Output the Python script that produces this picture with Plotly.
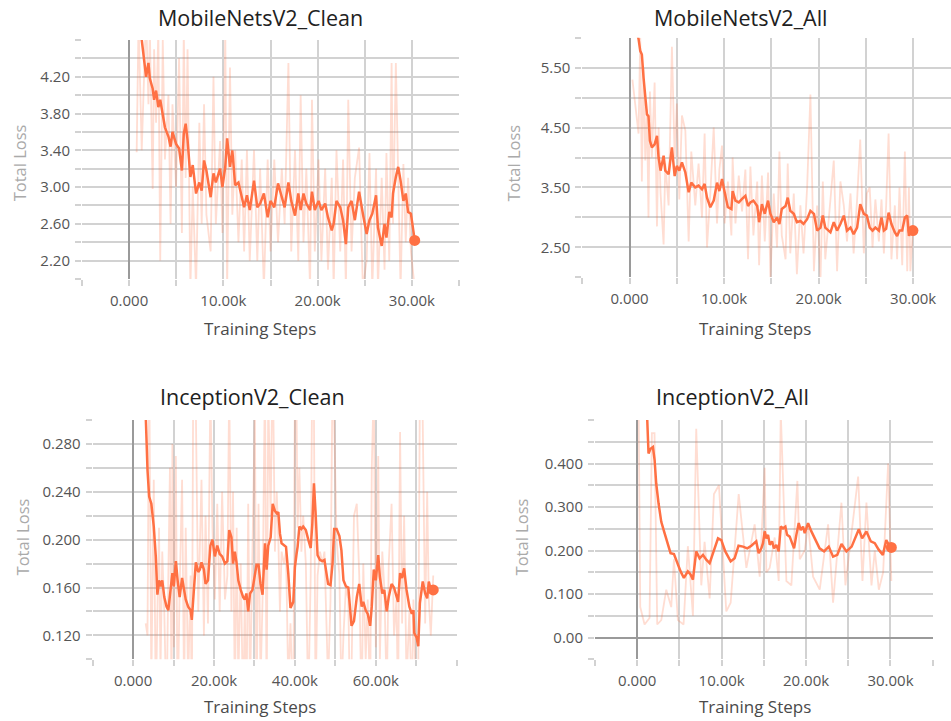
import plotly.graph_objects as go

# ---------------- DATA ----------------
# Panel 1: MobileNetsV2_Clean
mc_steps = [800, 1000, 1340, 1800, 2050, 2200, 2500, 2650, 2860, 3100,
            3300, 3570, 3800, 4170, 4400, 4600, 4980, 5300, 5600, 5800,
            6000, 6200, 6500, 6750, 7100, 7450, 7700, 7950, 8200, 8650,
            8950, 9200, 9650, 9900, 10200, 10400, 10700, 10950, 11250, 11600,
            11950, 12200, 12500, 12800, 13250, 13600, 13900, 14300, 14700, 15000,
            15400, 15800, 16200, 16500, 16900, 17200, 17600, 17950, 18200, 18500,
            18800, 19200, 19400, 19700, 20100, 20400, 20800, 21100, 21500, 21700,
            22000, 22400, 22700, 23000, 23250, 23600, 23950, 24400, 24800, 25200,
            25500, 25800, 26200, 26400, 26800, 27100, 27300, 27600, 27850, 28000,
            28300, 28550, 28800, 29100, 29350, 29600, 29900, 30300]
mc_smooth = [5.10, 4.85, 4.60, 4.20, 4.35, 4.18, 4.07, 3.95, 4.05, 3.87,
             3.95, 3.76, 3.65, 3.55, 3.44, 3.60, 3.47, 3.42, 3.18, 3.58,
             3.69, 3.51, 3.11, 3.24, 2.93, 3.05, 2.96, 3.29, 3.18, 2.89,
             3.15, 3.05, 3.20, 3.00, 3.22, 3.53, 3.22, 3.40, 3.02, 3.05,
             2.89, 2.78, 2.91, 2.75, 3.07, 2.78, 2.82, 2.93, 2.67, 2.85,
             2.78, 3.04, 2.89, 2.78, 3.05, 2.85, 2.69, 2.93, 2.75, 2.93,
             2.82, 2.75, 2.95, 2.75, 2.85, 2.75, 2.82, 2.67, 2.53, 2.60,
             2.85, 2.78, 2.64, 2.38, 2.78, 2.85, 2.64, 2.95, 2.71, 2.49,
             2.64, 2.71, 2.91, 2.56, 2.36, 2.60, 2.45, 2.73, 2.67, 2.93,
             3.11, 3.22, 3.07, 2.85, 2.93, 2.73, 2.71, 2.42]
mc_raw = [3.38, 4.80, 3.40, 4.90, 3.90, 4.70, 2.98, 4.50, 3.70, 4.70,
          2.20, 4.60, 3.30, 4.00, 2.60, 3.90, 3.00, 4.40, 2.50, 4.70,
          3.10, 4.50, 1.90, 3.00, 1.90, 3.70, 2.60, 3.90, 2.70, 2.30,
          4.20, 2.60, 3.50, 2.50, 4.70, 1.90, 4.30, 2.70, 3.40, 2.40,
          3.30, 2.30, 3.40, 2.20, 3.40, 2.20, 3.20, 1.90, 3.30, 2.30,
          3.30, 2.40, 3.20, 2.60, 4.35, 2.30, 3.40, 2.20, 4.00, 2.40,
          3.20, 1.90, 3.95, 2.30, 3.30, 2.20, 3.20, 2.10, 3.10, 1.90,
          3.40, 2.30, 3.30, 1.90, 3.95, 2.30, 3.10, 3.43, 1.90, 2.20,
          3.37, 1.90, 3.20, 1.90, 3.10, 2.10, 3.37, 2.20, 4.35, 2.60,
          4.35, 2.90, 1.90, 3.25, 2.40, 3.10, 2.30, 1.90]

# Panel 2: MobileNetsV2_All
ma_steps = [300, 950, 1130, 1300, 1480, 1660, 1840, 2000, 2150, 2360,
            2650, 2900, 3070, 3280, 3600, 3780, 4130, 4480, 4770, 5000,
            5260, 5540, 5900, 6250, 6530, 6950, 7300, 7660, 7940, 8190,
            8540, 8900, 9250, 9500, 9780, 10060, 10400, 10770, 10900, 11200,
            11550, 11900, 12250, 12530, 12780, 13100, 13500, 13700, 14000, 14300,
            14650, 14900, 15250, 15600, 15850, 16100, 16500, 16730, 17000, 17370,
            17700, 18070, 18400, 18780, 19130, 19500, 19840, 20200, 20440, 20700,
            21250, 21600, 21950, 22300, 22660, 23000, 23370, 23700, 24070, 24400,
            24780, 25100, 25400, 25700, 26000, 26370, 26650, 26900, 27140, 27400,
            27700, 28060, 28300, 28550, 28840, 29120, 29370, 29550, 29700, 29970]
ma_smooth = [6.40, 5.98, 5.78, 5.72, 5.33, 5.00, 4.72, 4.69, 4.28, 4.17,
             4.22, 4.36, 4.00, 3.78, 4.03, 3.78, 3.72, 4.17, 3.69, 3.86,
             3.78, 3.92, 3.75, 3.42, 3.58, 3.50, 3.53, 3.47, 3.56, 3.33,
             3.17, 3.28, 3.58, 3.44, 3.64, 3.42, 3.17, 3.14, 3.44, 3.28,
             3.25, 3.31, 3.36, 3.19, 3.25, 3.28, 3.19, 2.92, 3.22, 3.06,
             3.28, 3.06, 2.92, 3.00, 2.89, 3.14, 3.19, 3.33, 3.11, 3.06,
             2.92, 2.94, 2.89, 2.97, 3.11, 3.06, 2.78, 2.83, 3.03, 2.83,
             2.75, 2.92, 2.78, 2.89, 3.03, 2.78, 2.83, 2.72, 2.83, 3.22,
             3.06, 3.03, 2.83, 2.78, 2.83, 2.78, 3.00, 2.78, 2.81, 3.08,
             2.89, 2.75, 2.69, 2.78, 2.78, 3.00, 3.03, 2.69, 2.83, 2.78]
ma_raw = [5.30, 4.40, 6.00, 3.60, 5.50, 3.95, 4.80, 3.00, 5.10, 4.00,
          5.25, 2.85, 4.50, 3.40, 2.55, 3.90, 3.20, 5.85, 4.00, 4.90,
          3.30, 4.70, 4.45, 2.60, 4.10, 3.20, 3.90, 3.00, 4.40, 2.50,
          3.40, 4.50, 2.90, 3.80, 4.20, 2.90, 3.60, 2.70, 4.00, 2.90,
          3.70, 3.10, 3.80, 2.30, 3.85, 2.70, 3.60, 2.20, 3.70, 2.60,
          3.75, 2.00, 3.40, 2.50, 4.10, 2.70, 2.30, 3.90, 2.40, 3.40,
          2.05, 3.20, 2.40, 3.50, 5.05, 2.10, 3.20, 2.00, 3.60, 2.30,
          3.30, 3.95, 2.10, 3.60, 3.20, 2.60, 3.40, 2.40, 3.30, 4.30,
          2.40, 3.40, 3.50, 2.50, 3.30, 2.60, 3.30, 2.40, 3.20, 4.40,
          2.30, 3.20, 2.30, 3.50, 2.20, 4.10, 2.10, 3.50, 2.10, 2.80]

# Panel 3: InceptionV2_Clean
ic_steps = [3100, 3550, 3960, 4500, 5100, 5600, 6000, 6400, 6760, 7200,
            7700, 8250, 8700, 9100, 9500, 9700, 10060, 10560, 11000, 11500,
            12100, 12600, 13000, 13600, 14200, 14500, 14850, 15500, 16100, 16500,
            16900, 17500, 17900, 18500, 19100, 19600, 20200, 20800, 21400, 22000,
            22700, 23300, 23750, 24300, 24700, 25150, 25600, 26000, 26600, 27200,
            27600, 28000, 28450, 28900, 29500, 30100, 30500, 31000, 31500, 32000,
            32600, 33000, 33400, 34000, 34500, 35050, 35500, 35900, 36300, 36700,
            37300, 37800, 38350, 38900, 39600, 40000, 40400, 40660, 41100, 41600,
            42050, 42700, 43300, 43900, 44300, 44700, 45100, 45600, 46200, 46800,
            47300, 47700, 48200, 48800, 49300, 49700, 50300, 51000, 51500, 52000,
            52600, 53200, 53600, 54000, 54600, 55300, 55900, 56500, 56900, 57500,
            58000, 58600, 59000, 59500, 60000, 60600, 61000, 61600, 62100, 62700,
            63200, 63900, 64500, 65100, 65500, 66000, 66500, 67000, 67600, 68300,
            68900, 69300, 69500, 70100, 70500, 70900, 71600, 72200, 72700, 73100,
            73600, 74200]
ic_smooth = [0.305, 0.258, 0.236, 0.230, 0.211, 0.186, 0.154, 0.166, 0.161, 0.166,
             0.152, 0.144, 0.141, 0.152, 0.163, 0.172, 0.161, 0.182, 0.166, 0.152,
             0.168, 0.158, 0.150, 0.144, 0.141, 0.133, 0.152, 0.181, 0.173, 0.175,
             0.181, 0.175, 0.163, 0.166, 0.195, 0.200, 0.186, 0.195, 0.188, 0.186,
             0.180, 0.182, 0.208, 0.202, 0.180, 0.190, 0.180, 0.166, 0.158, 0.152,
             0.150, 0.155, 0.140, 0.155, 0.158, 0.172, 0.179, 0.179, 0.163, 0.154,
             0.197, 0.175, 0.195, 0.202, 0.230, 0.224, 0.222, 0.223, 0.205, 0.197,
             0.195, 0.194, 0.172, 0.143, 0.148, 0.177, 0.188, 0.194, 0.211, 0.209,
             0.211, 0.208, 0.200, 0.193, 0.213, 0.247, 0.223, 0.187, 0.183, 0.182,
             0.183, 0.173, 0.163, 0.162, 0.180, 0.209, 0.209, 0.203, 0.191, 0.166,
             0.161, 0.160, 0.144, 0.128, 0.132, 0.152, 0.163, 0.144, 0.148, 0.141,
             0.138, 0.128, 0.144, 0.175, 0.166, 0.187, 0.169, 0.155, 0.158, 0.140,
             0.152, 0.163, 0.160, 0.152, 0.148, 0.172, 0.168, 0.176, 0.158, 0.144,
             0.138, 0.141, 0.122, 0.118, 0.111, 0.147, 0.165, 0.155, 0.151, 0.165,
             0.158, 0.158]
ic_raw = [0.13, 0.12, 0.35, 0.08, 0.25, 0.06, 0.14, 0.21, 0.09, 0.19,
          0.14, 0.05, 0.17, 0.26, 0.06, 0.28, 0.11, 0.27, 0.05, 0.16,
          0.25, 0.07, 0.21, 0.08, 0.17, 0.05, 0.33, 0.31, 0.14, 0.19,
          0.25, 0.12, 0.22, 0.13, 0.33, 0.21, 0.15, 0.23, 0.14, 0.24,
          0.15, 0.17, 0.33, 0.14, 0.24, 0.06, 0.21, 0.08, 0.18, 0.05,
          0.15, 0.04, 0.23, 0.07, 0.19, 0.31, 0.05, 0.23, 0.08, 0.15,
          0.34, 0.05, 0.32, 0.22, 0.36, 0.19, 0.24, 0.20, 0.14, 0.19,
          0.18, 0.19, 0.08, 0.13, 0.05, 0.33, 0.31, 0.21, 0.26, 0.19,
          0.22, 0.18, 0.06, 0.17, 0.35, 0.31, 0.06, 0.17, 0.19, 0.18,
          0.19, 0.14, 0.08, 0.15, 0.34, 0.30, 0.20, 0.17, 0.07, 0.12,
          0.16, 0.15, 0.06, 0.09, 0.22, 0.23, 0.17, 0.05, 0.18, 0.10,
          0.15, 0.06, 0.26, 0.33, 0.11, 0.27, 0.10, 0.19, 0.16, 0.07,
          0.18, 0.23, 0.12, 0.15, 0.06, 0.29, 0.13, 0.22, 0.08, 0.14,
          0.06, 0.15, 0.08, 0.05, 0.09, 0.33, 0.30, 0.13, 0.24, 0.15,
          0.12, 0.17]

# Panel 4: InceptionV2_All
ia_steps = [1150, 1340, 1580, 1860, 2060, 2250, 2530, 2850, 3240, 3640,
            3950, 4350, 4740, 5140, 5530, 6000, 6320, 6600, 6990, 7390,
            7790, 8180, 8580, 9090, 9570, 9960, 10430, 11070, 11540, 12000,
            12530, 13040, 13520, 14100, 14390, 14700, 14900, 15100, 15300, 15500,
            15700, 15970, 16200, 16480, 16760, 17000, 17270, 17550, 17750, 18060,
            18340, 18580, 18850, 19130, 19370, 19640, 19840, 20240, 20630, 21100,
            21600, 22130, 22690, 23200, 23700, 24200, 24780, 25400, 25770, 26250,
            26640, 27150, 27670, 28140, 28600, 29100, 29500, 29800, 30100]
ia_smooth = [0.520, 0.423, 0.434, 0.438, 0.408, 0.354, 0.308, 0.266, 0.240, 0.213,
             0.194, 0.192, 0.171, 0.152, 0.137, 0.152, 0.145, 0.133, 0.198, 0.182,
             0.190, 0.179, 0.171, 0.202, 0.228, 0.224, 0.198, 0.175, 0.182, 0.211,
             0.209, 0.205, 0.211, 0.221, 0.194, 0.205, 0.217, 0.244, 0.228, 0.236,
             0.213, 0.221, 0.205, 0.213, 0.198, 0.255, 0.251, 0.255, 0.236, 0.232,
             0.217, 0.205, 0.236, 0.263, 0.247, 0.255, 0.240, 0.263, 0.244, 0.224,
             0.205, 0.198, 0.209, 0.186, 0.190, 0.215, 0.198, 0.209, 0.228, 0.249,
             0.228, 0.244, 0.221, 0.217, 0.202, 0.190, 0.224, 0.213, 0.207]
ia_raw_steps = [160, 360, 870, 1460, 1740, 2050, 2370, 2850, 3440, 4030,
                4350, 4820, 5490, 6000, 6600, 6990, 7590, 7980, 8580, 9090,
                9680, 10550, 11070, 12020, 12930, 13910, 14510, 15100, 15300, 15690,
                16280, 16760, 17000, 17670, 18260, 18970, 19250, 19840, 20240, 20830,
                21620, 22610, 23200, 24190, 24660, 26170, 26680, 27150, 27750, 28140,
                28620, 29130, 29720, 30100]
ia_raw = [0.55, 0.07, 0.03, 0.045, 0.47, 0.47, 0.03, 0.04, 0.11, 0.07,
          0.18, 0.04, 0.03, 0.21, 0.05, 0.48, 0.12, 0.22, 0.09, 0.33,
          0.35, 0.06, 0.08, 0.33, 0.16, 0.26, 0.14, 0.39, 0.15, 0.16,
          0.23, 0.13, 0.52, 0.13, 0.12, 0.36, 0.18, 0.20, 0.26, 0.14,
          0.11, 0.26, 0.08, 0.31, 0.12, 0.37, 0.13, 0.31, 0.12, 0.20,
          0.11, 0.15, 0.40, 0.13]

titles = ["MobileNetsV2_Clean", "MobileNetsV2_All", "InceptionV2_Clean", "InceptionV2_All"]

# Axis tick labels / grid positions
mc_xticks = [0, 10000, 20000, 30000]
mc_yticks = [2.2, 2.6, 3.0, 3.4, 3.8, 4.2]
mc_ygrid = [2.0, 2.4, 2.8, 3.2, 3.6, 4.0, 4.4, 4.6]
ma_yticks = [2.5, 3.5, 4.5, 5.5]
ma_ygrid = [2.0, 3.0, 4.0, 5.0, 6.0]
ic_xticks = [0, 20000, 40000, 60000]
ic_yticks = [0.12, 0.16, 0.20, 0.24, 0.28]
ic_ygrid = [0.10, 0.14, 0.18, 0.22, 0.26, 0.30]
ia_yticks = [0.0, 0.1, 0.2, 0.3, 0.4]
ia_yticktext = ["0.00", "0.100", "0.200", "0.300", "0.400"]
ia_ygrid = [-0.05, 0.05, 0.15, 0.25, 0.35, 0.45, 0.5]
x5_grid = [-5000, 5000, 15000, 25000, 35000]
ic_xgrid = [-10000, 10000, 30000, 50000, 70000, 80000]

for a, b in [(mc_steps, mc_smooth), (mc_steps, mc_raw), (ma_steps, ma_smooth), (ma_steps, ma_raw),
             (ic_steps, ic_smooth), (ic_steps, ic_raw), (ia_steps, ia_smooth), (ia_raw_steps, ia_raw)]:
    assert len(a) == len(b), (len(a), len(b))

# ---------------- STYLE ----------------
W, H = 951, 721
ORANGE = "#ff7043"
RAW = "rgba(255,112,67,0.24)"
GRID = "#d2d2d2"
ZERO = "#9a9a9a"
FONT = "Open Sans"

fig = go.Figure()

panels = [
    dict(sx=mc_steps, sy=mc_smooth, rx=mc_steps, ry=mc_raw, xa="x", ya="y"),
    dict(sx=ma_steps, sy=ma_smooth, rx=ma_steps, ry=ma_raw, xa="x2", ya="y2"),
    dict(sx=ic_steps, sy=ic_smooth, rx=ic_steps, ry=ic_raw, xa="x3", ya="y3"),
    dict(sx=ia_steps, sy=ia_smooth, rx=ia_raw_steps, ry=ia_raw, xa="x4", ya="y4"),
]
for p in panels:
    fig.add_trace(go.Scatter(x=p["rx"], y=p["ry"], mode="lines", xaxis=p["xa"], yaxis=p["ya"],
                             line=dict(color=RAW, width=1.8), hoverinfo="skip", showlegend=False))
    fig.add_trace(go.Scatter(x=p["sx"], y=p["sy"], mode="lines", xaxis=p["xa"], yaxis=p["ya"],
                             line=dict(color=ORANGE, width=2.5), showlegend=False))
    fig.add_trace(go.Scatter(x=p["sx"][-1:], y=p["sy"][-1:], mode="markers", xaxis=p["xa"], yaxis=p["ya"],
                             marker=dict(color=ORANGE, size=11), showlegend=False, cliponaxis=False))


def px_x(v):
    return v / W


def px_y(v):
    return 1 - v / H


def axis_common(domain, rng, ticks, grid, anchor):
    return dict(domain=domain, range=rng, anchor=anchor, tickmode="array", tickvals=ticks,
                showgrid=True, gridcolor=GRID, gridwidth=1.5,
                zeroline=True, zerolinecolor=ZERO, zerolinewidth=1.5, showline=False,
                ticks="outside", ticklen=6, tickwidth=1.5, tickcolor=GRID,
                tickfont=dict(family=FONT, size=15, color="#555555"), ticklabelstandoff=2,
                minor=dict(tickmode="array", tickvals=grid, showgrid=True, gridcolor=GRID, gridwidth=1.5,
                           ticks="outside", ticklen=6, tickwidth=1.5, tickcolor=GRID),
                fixedrange=True)


def xaxis(domain, rng, ticks, grid, anchor):
    d = axis_common(domain, rng, ticks, grid, anchor)
    d["tickformat"] = ".4s"
    return d


def yaxis(domain, rng, ticks, grid, anchor, fmt=None, text=None):
    d = axis_common(domain, rng, ticks, grid, anchor)
    if fmt:
        d["tickformat"] = fmt
    if text:
        d["ticktext"] = text
    return d


top_y = [px_y(279), px_y(40)]
top_y2 = [px_y(277.3), px_y(37.7)]
bot_y = [px_y(659.3), px_y(420)]

fig.update_layout(
    width=W, height=H, margin=dict(l=0, r=0, t=0, b=0),
    paper_bgcolor="white", plot_bgcolor="white",
    font=dict(family=FONT),
    xaxis=xaxis([px_x(82), px_x(459)], [-5000, 35000], mc_xticks, x5_grid, "y"),
    yaxis=yaxis(top_y, [2.0, 4.6], mc_yticks, mc_ygrid, "x", fmt=".2f"),
    xaxis2=xaxis([px_x(582.3), 1.0], [-5000, 34000], mc_xticks, x5_grid, "y2"),
    yaxis2=yaxis(top_y2, [2.0, 6.0], ma_yticks, ma_ygrid, "x2", fmt=".2f"),
    xaxis3=xaxis([px_x(92.7), px_x(456.7)], [-10000, 80000], ic_xticks, ic_xgrid, "y3"),
    yaxis3=yaxis(bot_y, [0.10, 0.30], ic_yticks, ic_ygrid, "x3", fmt=".3f"),
    xaxis4=xaxis([px_x(595), px_x(932.7)], [-5000, 35000], mc_xticks, x5_grid, "y4"),
    yaxis4=yaxis(bot_y, [-0.05, 0.5], ia_yticks, ia_ygrid, "x4", text=ia_yticktext),
)

title_pos = [(260.8, 17.5), (740.5, 17.5), (252.8, 396.7), (732.8, 396.7)]
xlab_pos = [(260, 328.3), (755, 328.3), (260, 706.7), (755, 706.7)]
ylab_pos = [(19, 163.3), (513.3, 163.3), (22.7, 536.7), (521.7, 536.7)]

for t, (tx, ty), (lx, ly), (yx, yy) in zip(titles, title_pos, xlab_pos, ylab_pos):
    fig.add_annotation(text=t, x=px_x(tx), y=px_y(ty), xref="paper", yref="paper",
                       xanchor="center", yanchor="middle", showarrow=False,
                       font=dict(family=FONT, size=21.5, color="#212121"))
    fig.add_annotation(text="Training Steps", x=px_x(lx), y=px_y(ly), xref="paper", yref="paper",
                       xanchor="center", yanchor="middle", showarrow=False,
                       font=dict(family=FONT, size=17, color="#4a4a4a"))
    fig.add_annotation(text="Total Loss", x=px_x(yx), y=px_y(yy), xref="paper", yref="paper",
                       xanchor="center", yanchor="middle", showarrow=False, textangle=-90,
                       font=dict(family=FONT, size=16.5, color="#aaaaaa"))

fig.write_html("out.html", config={"displayModeBar": False},
               post_script="document.body.style.margin='0';document.body.style.overflow='hidden';")
